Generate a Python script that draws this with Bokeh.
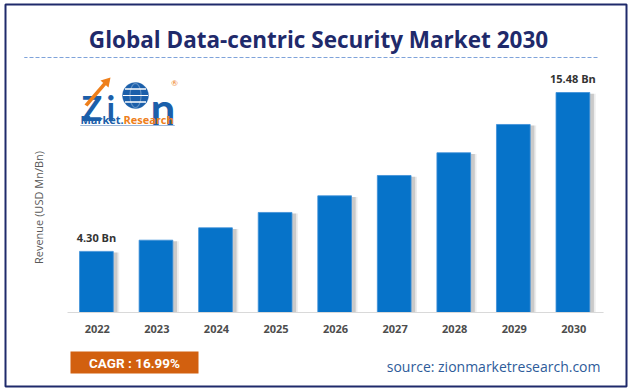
import numpy as np
from bokeh.plotting import figure
from bokeh.models import ColumnDataSource, Label, BoxAnnotation, PolyAnnotation, Range1d
from bokeh.transform import dodge
from bokeh.core.properties import value
from bokeh.embed import file_html
from bokeh.resources import INLINE

# ---- data ----
years = ["2022", "2023", "2024", "2025", "2026", "2027", "2028", "2029", "2030"]
revenue = [4.30, 5.09, 5.96, 7.04, 8.21, 9.64, 11.24, 13.23, 15.48]
bar_labels = ["4.30 Bn", "", "", "", "", "", "", "", "15.48 Bn"]
title_text = "Global Data-centric Security Market 2030"
y_label_text = "Revenue (USD Mn/Bn)"
cagr_text = "CAGR : 16.99%"
source_text = "source: zionmarketresearch.com"

# ---- layout (whole canvas is the plotting frame) ----
W, H = 630, 388
X0, DX = 96.8, 59.56          # pixel centre of first category, pixels per category
BASE, KY = 312.0, 220 / 15.48  # pixel row of zero, pixels per unit

x_range = Range1d(-X0 / DX, (W - X0) / DX)
y_range = Range1d(-(H - BASE) / KY, BASE / KY)


def sx(px):
    return px


def sy(py):
    return H - py


p = figure(width=W, height=H, x_range=x_range, y_range=y_range,
           output_backend="svg", toolbar_location=None,
           min_border=0, min_border_left=0, min_border_right=0,
           min_border_top=0, min_border_bottom=0)
p.axis.visible = False
p.grid.visible = False
p.outline_line_color = None
p.background_fill_color = "white"
p.border_fill_color = "white"

idx = list(range(len(years)))
src = ColumnDataSource(dict(i=idx, year=years, rev=revenue, lab=bar_labels,
                            shadow=[v - 0.08 for v in revenue],
                            zero=[0.0] * len(years)))

# shadows
p.vbar(x=dodge("i", 0.085), top="shadow", width=0.566, source=src,
       fill_color="#9A9A9A", fill_alpha=0.18, line_color=None)
p.vbar(x=dodge("i", 0.055), top="shadow", width=0.566, source=src,
       fill_color="#8A8A8A", fill_alpha=0.35, line_color=None)
# bars
p.vbar(x=dodge("i", -0.015), top="rev", width=0.566, source=src,
       fill_color="#0673C9", line_color="#3E8FD8", line_width=0.8)

# baseline (category axis line)
p.segment(x0=[idx[0] - 0.5], x1=[idx[-1] + 0.5], y0=[0], y1=[0],
          line_color="#D9D9D9", line_width=1)

# category tick labels
p.text(x="i", y="zero", text="year", source=src, text_align="center",
       text_baseline="middle", y_offset=16, text_font=value("Open Sans"),
       text_font_style="bold", text_font_size="11px", text_color="#4D4D4D")

# bar value labels
p.text(x=dodge("i", -0.015), y="rev", text="lab", source=src,
       text_align="center", text_baseline="middle", y_offset=-14,
       text_font=value("Open Sans"), text_font_style="bold",
       text_font_size="11px", text_color="#333333")


def lab(text, x, y, size, color, font="Open Sans", style="normal", align="center",
        angle=0.0, baseline="middle"):
    p.add_layout(Label(x=sx(x), y=sy(y), x_units="screen", y_units="screen",
                       text=text, text_font=font, text_font_size=size,
                       text_font_style=style, text_color=color, text_align=align,
                       text_baseline=baseline, angle=angle))


def box(l, r, t, b, fill=None, line=None, lw=1, dash="solid"):
    p.add_layout(BoxAnnotation(left=sx(l), right=sx(r), top=sy(t), bottom=sy(b),
                               left_units="screen", right_units="screen",
                               top_units="screen", bottom_units="screen",
                               fill_color=fill if fill else "white",
                               fill_alpha=1 if fill else 0,
                               line_color=line if line else "white",
                               line_width=lw, line_dash=dash,
                               line_alpha=1 if line else 0))


# outer border
box(5, 626, 4, 386, line="#1F2A6B", lw=2)

# title
lab(title_text, 318, 39, "22.5px", "#1F2A6B", font="Open Sans", style="bold")
# dashed rule
box(24, 598, 57, 57, line="#7FA3DA", lw=1, dash="3 3")

# y label
lab(y_label_text, 38, 207, "11px", "#595959", angle=np.pi / 2)

# CAGR box
box(70, 198, 351, 373, fill="#D2600F")
lab(cagr_text, 134, 362, "13.5px", "white", font="Roboto", style="bold")

# source
lab(source_text, 600, 366, "14px", "#2E5C9A", font="Open Sans", align="right")

# ---- logo ----
LOGO_BLUE = "#1B5FAA"
LOGO_ORANGE = "#EE7F1B"
lab("Z", 81, 107, "34px", LOGO_BLUE, font="Lato", style="bold", align="left",
    baseline="alphabetic")
lab("i", 106, 107, "34px", LOGO_BLUE, font="Lato", style="bold", align="left",
    baseline="alphabetic")
t = np.linspace(0, 2 * np.pi, 48)
cx, cy, r = 135, 95, 13
p.add_layout(PolyAnnotation(xs=list(sx(cx + r * np.cos(t))), ys=list(sy(cy + r * np.sin(t))),
                            xs_units="screen", ys_units="screen",
                            fill_color=LOGO_BLUE, fill_alpha=1, line_color=LOGO_BLUE))
p.add_layout(PolyAnnotation(xs=list(sx(cx + 5.5 * np.cos(t))), ys=list(sy(cy + 12 * np.sin(t))),
                            xs_units="screen", ys_units="screen",
                            fill_alpha=0, line_color="white", line_width=1.2))
box(cx - 12.5, cx + 12.5, cy, cy, line="white", lw=1.2)
box(cx - 10.5, cx + 10.5, cy - 6.5, cy - 6.5, line="white", lw=1)
box(cx - 10.5, cx + 10.5, cy + 6.5, cy + 6.5, line="white", lw=1)
lab("n", 150, 107, "44px", LOGO_BLUE, font="Lato", style="bold", align="left",
    baseline="alphabetic")
lab("\u00ae", 174, 82, "8px", LOGO_ORANGE, font="Lato", align="center")
p.add_layout(PolyAnnotation(xs=[sx(84), sx(87), sx(106), sx(103)],
                            ys=[sy(104), sy(106), sy(84), sy(82)],
                            xs_units="screen", ys_units="screen",
                            fill_color=LOGO_ORANGE, fill_alpha=1, line_color=None))
p.add_layout(PolyAnnotation(xs=[sx(100), sx(110), sx(108)],
                            ys=[sy(80), sy(77), sy(87)],
                            xs_units="screen", ys_units="screen",
                            fill_color=LOGO_ORANGE, fill_alpha=1, line_color=None))
lab("Market.", 80, 119, "11px", LOGO_BLUE, font="Open Sans", style="bold", align="left")
lab("Research", 123, 119, "11px", LOGO_ORANGE, font="Open Sans", style="bold", align="left")
box(80, 174, 125, 125, line="#9DB7D8", lw=1)

open("out.html", "w").write(file_html(p, INLINE))
